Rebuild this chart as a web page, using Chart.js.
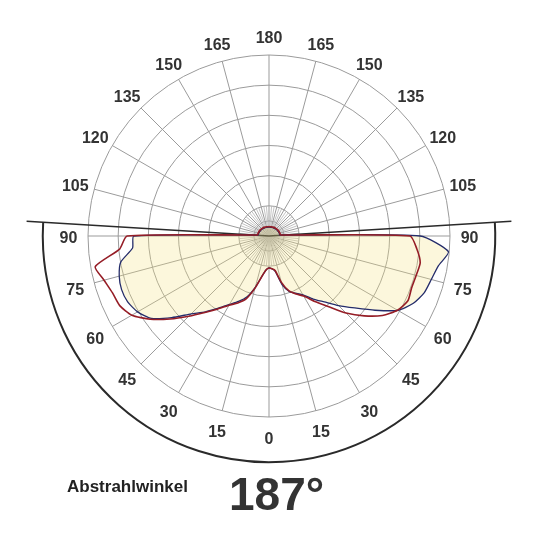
<!DOCTYPE html>
<html>
<head>
<meta charset="utf-8">
<script src="https://cdn.jsdelivr.net/npm/chart.js@4.4.1/dist/chart.umd.min.js"></script>
<style>
  html, body { margin:0; padding:0; background:#fff; }
  #wrap { position:relative; width:540px; height:540px; }
  #lbl { position:absolute; left:67px; top:478px; font:bold 17px/17px "Liberation Sans", Arial, sans-serif; color:#222; }
  #beam { position:absolute; left:229px; top:471px; font:bold 46px/46px "Liberation Sans", Arial, sans-serif; color:#333; }
</style>
</head>
<body>
<div id="wrap">
  <canvas id="polar"></canvas>
  <div id="lbl">Abstrahlwinkel</div>
  <div id="beam">187°</div>
</div>
<script>
// Lichtstärke, gamma 0..90 in 5°-Schritten (Unterseite)
const redLeft   = [106,113,136,179,222,245,265,295,331,376,428,481,525,546,552,566,585,497,470];
const redRight  = [106,109,116,159,194,212,230,265,305,361,412,459,492,508,503,505,509,492,467];
const blueLeft  = [106,113,136,176,215,239,262,292,328,365,421,476,503,517,520,514,499,454,448];
const blueRight = [106,109,119,166,196,209,225,255,285,326,371,429,493,528,548,557,570,597,501];
// Oberseite, 95..265 (über 180 gezählt)
const redBack  = [40,37,38,36,37,35,36,34,35,33,34,32,33,31,32,31,31,31,31,31,32,31,33,32,34,33,35,34,36,35,37,36,38,37,40];
const blueBack = [37,35,36,34,35,33,34,32,33,31,32,30,31,30,30,29,30,29,30,29,30,30,31,30,32,31,33,32,34,33,35,34,36,35,37];

const ringValues = [0,50,100,200,300,400,500,600];
const beamAngle = 187;

// 72 Richtungen, 0 unten, im Uhrzeigersinn
const angleLabels = [];
for (let i = 0; i < 72; i++) {
  const a = i * 5;
  angleLabels.push(String(a <= 180 ? a : 360 - a));
}

function buildSeries(left, back, right){
  const out = [];
  for (let i = 0; i < 72; i++) {
    const a = i * 5;
    if (a <= 90) out.push(left[a / 5]);
    else if (a >= 270) out.push(right[(360 - a) / 5]);
    else out.push(back[(a - 95) / 5]);
  }
  return out;
}
const redSeries = buildSeries(redLeft, redBack, redRight);
const blueSeries = buildSeries(blueLeft, blueBack, blueRight);

const gridColor = "#9b9b9b";
const labelFont = 'bold 16px "Liberation Sans", Arial, sans-serif';

const extrasPlugin = {
  id: "extras",
  beforeDatasetsDraw(chart){
    const s = chart.scales.r, c = chart.ctx;
    c.save();
    // kurze Strahlen alle 5° im Innenbereich
    c.strokeStyle = "#b4b4b4"; c.lineWidth = 0.8;
    for (let i = 0; i < angleLabels.length; i++) {
      if (i % 3 === 0) continue;
      const p = s.getPointPositionForValue(i, 100);
      c.beginPath(); c.moveTo(s.xCenter, s.yCenter); c.lineTo(p.x, p.y); c.stroke();
    }
    // Abstrahlwinkel
    const half = beamAngle / 2 * Math.PI / 180;
    const rArc = s.getDistanceFromCenterForValue(750);
    const rLine = s.getDistanceFromCenterForValue(805);
    const aL = Math.PI / 2 + half, aR = Math.PI / 2 - half;
    c.strokeStyle = "#2a2a2a"; c.lineWidth = 1.6;
    c.beginPath();
    c.moveTo(s.xCenter + rLine * Math.cos(aL), s.yCenter + rLine * Math.sin(aL));
    c.lineTo(s.xCenter, s.yCenter);
    c.lineTo(s.xCenter + rLine * Math.cos(aR), s.yCenter + rLine * Math.sin(aR));
    c.stroke();
    c.lineWidth = 2;
    c.beginPath();
    c.arc(s.xCenter, s.yCenter, rArc, aR, aL);
    c.stroke();
    c.restore();
  },
  afterDraw(chart){
    // Winkelbeschriftung zentriert auf festem Radius
    const s = chart.scales.r, c = chart.ctx;
    c.save();
    c.font = labelFont; c.fillStyle = "#333";
    c.textAlign = "center"; c.textBaseline = "middle";
    for (let i = 0; i < angleLabels.length; i += 3) {
      const p = s.getPointPositionForValue(i, 665);
      c.fillText(angleLabels[i], p.x, p.y + 3);
    }
    c.restore();
  }
};

new Chart(document.getElementById("polar"), {
  type: "radar",
  data: {
    labels: angleLabels,
    datasets: [
      { label:"C90-C270", data: redSeries, borderColor:"#951d26", borderWidth:1.6,
        fill:false, pointRadius:0, tension:0.2 },
      { label:"C0-C180", data: blueSeries, borderColor:"#242c6a", borderWidth:1.3,
        backgroundColor:"rgba(245,225,130,0.28)", fill:"origin", pointRadius:0, tension:0.2 }
    ]
  },
  options: {
    responsive:true, maintainAspectRatio:false, animation:false,
    layout:{ padding:{ left:88, right:90, top:55, bottom:123 } },
    plugins:{ legend:{ display:false }, tooltip:{ enabled:false } },
    scales:{
      r:{
        min:0, max:600, startAngle:180,
        afterBuildTicks: s => { s.ticks = ringValues.map(v => ({ value:v })); },
        ticks:{ display:false },
        grid:{ circular:true, color:gridColor, lineWidth:1 },
        angleLines:{ color:gridColor, lineWidth: c => (c.index % 3 === 0 ? 1 : 0) },
        pointLabels:{ display:false }
      }
    }
  },
  plugins:[extrasPlugin]
});
</script>
</body>
</html>
